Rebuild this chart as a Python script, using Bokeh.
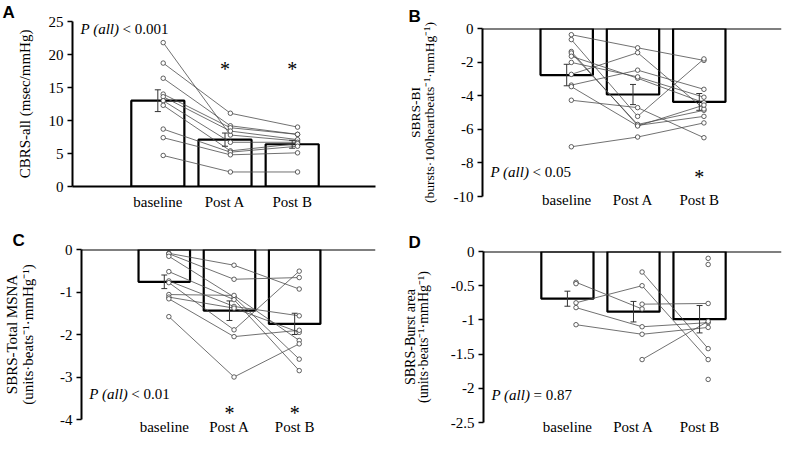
import numpy as np
from bokeh.plotting import figure
from bokeh.layouts import column, row
from bokeh.models import FixedTicker, Label, Span
from bokeh.embed import file_html
from bokeh.resources import INLINE

nan = float("nan")
categories = ["baseline", "Post A", "Post B"]
cat_x = [0, 1, 2]

# Panel A: CBRS-all (msec/mmHg)
a_baseline = [21.8, 18.7, 16.4, 14.0, 13.6, 13.0, 12.3, 8.7, 7.4, 4.7]
a_post_a = [7.8, 11.1, 9.2, 8.9, 8.4, 6.7, 5.4, 5.2, 4.8, 2.2]
a_post_b = [6.9, 9.0, 7.9, 7.9, 7.1, 6.7, 6.5, 6.1, 5.1, 2.2]
a_means = [13.0, 7.1, 6.4]
a_sem = [1.65, 1.0, 0.6]
a_ticks = [0, 5, 10, 15, 20, 25]
a_tick_labels = ["0", "5", "10", "15", "20", "25"]

# Panel B: SBRS-BI
b_baseline = [-0.37, -0.66, -1.37, -1.46, -1.65, -2.02, -2.73, -3.37, -3.46, -4.27, -7.04]
b_post_a = [-1.15, -5.23, -5.77, -5.71, -2.96, -2.88, -1.44, -2.48, -5.80, -4.71, -6.46]
b_post_b = [-1.90, -1.81, -5.23, -4.87, -4.42, -4.09, -4.79, -3.62, -4.56, -6.50, -5.62]
b_means = [-2.77, -3.93, -4.37]
b_sem = [0.64, 0.6, 0.5]
b_ticks = [0, -2, -4, -6, -8, -10]
b_tick_labels = ["0", "-2", "-4", "-6", "-8", "-10"]

# Panel C: SBRS-Total MSNA
c_baseline = [-0.09, -0.10, -0.16, -0.52, -0.74, -0.78, -1.06, -1.12, -1.16, -1.58]
c_post_a = [-0.37, -0.70, -1.12, -1.18, -1.34, -1.89, -1.08, -1.38, -2.05, -3.00]
c_post_b = [-0.93, -0.66, -2.58, -2.85, -1.56, -0.51, -2.14, -1.95, -1.90, -2.22]
c_means = [-0.76, -1.44, -1.75]
c_sem = [0.16, 0.23, 0.25]
c_ticks = [0, -1, -2, -3, -4]
c_tick_labels = ["0", "-1", "-2", "-3", "-4"]

# Panel D: SBRS-Burst area
d_baseline = [-0.45, -0.75, -0.82, -1.07, nan, nan, nan, nan, nan, nan, -0.47]
d_post_a = [-0.84, -0.50, -1.10, -1.21, -0.30, -0.77, -1.58, nan, nan, nan, nan]
d_post_b = [nan, -1.58, -1.04, -1.11, -1.42, -0.76, -1.02, -0.10, -0.19, -1.87, nan]
d_means = [-0.69, -0.88, -0.99]
d_sem = [0.11, 0.15, 0.2]
d_ticks = [0, -0.5, -1, -1.5, -2, -2.5]
d_tick_labels = ["0", "-0.5", "-1", "-1.5", "-2", "-2.5"]

X0, X1 = -1.27, 3.24
SERIF = "Liberation Serif"


def panel(letter, ylabel, yr, ticks, tick_labels, groups, means, sems, dx,
          p_rest, p_y, stars, star_y, w, h, bl, br, bt, bb,
          lab_size, lab_lh, lab_standoff, x_standoff, zero_axis,
          title_offset, title_standoff):
    p = figure(width=w, height=h, x_range=(X0, X1), y_range=yr,
               output_backend="svg", toolbar_location=None,
               min_border_left=bl, min_border_right=br,
               min_border_top=bt, min_border_bottom=bb)
    p.frame_align = False
    p.outline_line_color = None
    p.xgrid.grid_line_color = None
    p.ygrid.grid_line_color = None
    p.background_fill_color = "white"
    p.border_fill_color = "white"

    p.title.text = letter
    p.title.text_font = "Liberation Sans"
    p.title.text_font_style = "bold"
    p.title.text_font_size = "17px"
    p.title.text_color = "black"
    p.title.align = "left"
    p.title.offset = title_offset
    p.title.standoff = title_standoff

    p.vbar(x=cat_x, top=means, bottom=0, width=0.79, fill_color="white",
           line_color="black", line_width=2.2)

    xs0, ys0, xs1, ys1 = [], [], [], []
    for k in range(2):
        for v0, v1 in zip(groups[k], groups[k + 1]):
            if not (np.isnan(v0) or np.isnan(v1)):
                xs0.append(cat_x[k] + dx); ys0.append(v0)
                xs1.append(cat_x[k + 1] + dx); ys1.append(v1)
    p.segment(x0=xs0, y0=ys0, x1=xs1, y1=ys1, line_color="#4d4d4d", line_width=0.8)

    lo = [m - s for m, s in zip(means, sems)]
    hi = [m + s for m, s in zip(means, sems)]
    cap = 0.045
    p.segment(x0=cat_x, y0=lo, x1=cat_x, y1=hi, line_color="#333333", line_width=1)
    p.segment(x0=[x - cap for x in cat_x], y0=hi, x1=[x + cap for x in cat_x], y1=hi,
              line_color="#333333", line_width=1)
    p.segment(x0=[x - cap for x in cat_x], y0=lo, x1=[x + cap for x in cat_x], y1=lo,
              line_color="#333333", line_width=1)

    px, py = [], []
    for k in range(3):
        for v in groups[k]:
            if not np.isnan(v):
                px.append(cat_x[k] + dx); py.append(v)
    p.scatter(px, py, marker="circle", size=4.5, fill_color="white",
              line_color="#3a3a3a", line_width=0.8)

    yax = p.yaxis[0]
    yax.ticker = FixedTicker(ticks=ticks)
    yax.major_label_overrides = dict(zip(ticks, tick_labels))
    yax.axis_line_width = 2
    yax.axis_line_color = "black"
    yax.major_tick_out = 5
    yax.major_tick_in = 0
    yax.major_tick_line_width = 1.5
    yax.minor_tick_line_color = None
    yax.major_label_standoff = 4
    yax.major_label_text_font = SERIF
    yax.major_label_text_font_size = "15px"
    yax.major_label_text_color = "black"
    yax.axis_label = ylabel
    yax.axis_label_text_font = SERIF
    yax.axis_label_text_font_size = lab_size
    yax.axis_label_text_font_style = "normal"
    yax.axis_label_text_color = "black"
    yax.axis_label_standoff = lab_standoff
    yax.axis_label_text_line_height = lab_lh

    xax = p.xaxis[0]
    xax.ticker = FixedTicker(ticks=cat_x)
    xax.major_label_overrides = dict(zip(cat_x, categories))
    xax.major_tick_line_color = None
    xax.minor_tick_line_color = None
    xax.major_tick_out = 0
    xax.major_label_standoff = x_standoff
    xax.major_label_text_font = SERIF
    xax.major_label_text_font_size = "15px"
    xax.major_label_text_color = "black"
    if zero_axis:
        xax.axis_line_width = 2
        xax.axis_line_color = "black"
    else:
        xax.axis_line_color = None
        p.add_layout(Span(location=0, dimension="width", line_color="black", line_width=2))

    p.add_layout(Label(x=-1.15, y=p_y, text="P (all)", text_font=SERIF,
                       text_font_style="italic", text_font_size="15px",
                       text_baseline="middle", text_align="left", text_color="black"))
    p.add_layout(Label(x=-1.15, y=p_y, x_offset=42, text=p_rest, text_font=SERIF,
                       text_font_size="15px", text_baseline="middle",
                       text_align="left", text_color="black"))
    for c in stars:
        p.add_layout(Label(x=c, y=star_y, text="*", text_font=SERIF,
                           text_font_size="20px", text_baseline="middle",
                           text_align="center", text_color="black"))
    return p


pA = panel("A", "CBRS-all (msec/mmHg)", (0, 25), a_ticks, a_tick_labels,
           [a_baseline, a_post_a, a_post_b], a_means, a_sem, 0.08,
           "< 0.001", 23.9, [1, 2], 17.75, 392, 220, 72, 17, 19, 34,
           "15px", 1.0, 13, 7, True, -70, 0)
pB = panel("B", "SBRS-BI\n(bursts\u00b7100heartbeats\u207b\u00b9\u00b7mmHg\u207b\u00b9)",
           (-10, 0), b_ticks, b_tick_labels,
           [b_baseline, b_post_a, b_post_b], b_means, b_sem, 0.07,
           "< 0.05", -8.55, [2], -8.81, 392, 220, 90, 3, 28, 24,
           "13.5px", 0.9, 14, -5, False, -74, 5)
pC = panel("C", "SBRS-Total MSNA\n(units\u00b7beats\u207b\u00b9\u00b7mmHg\u207b\u00b9)",
           (-4, 0), c_ticks, c_tick_labels,
           [c_baseline, c_post_a, c_post_b], c_means, c_sem, 0.07,
           "< 0.01", -3.39, [1, 2], -3.84, 392, 221, 71, 17, 29, 22,
           "15px", 1.03, 21, -1, False, -69, 0)
pD = panel("D", "SBRS-Burst area\n(units\u00b7beats\u207b\u00b9\u00b7mmHg\u207b\u00b9)",
           (-2.5, 0), d_ticks, d_tick_labels,
           [d_baseline, d_post_a, d_post_b], d_means, d_sem, 0.13,
           "= 0.87", -2.10, [], 0, 392, 221, 91, 3, 31, 19,
           "14px", 0.85, 17, -4, False, -75, 0)

layout = column(row(pA, pB), row(pC, pD))
open("out.html", "w").write(file_html(layout, INLINE))
